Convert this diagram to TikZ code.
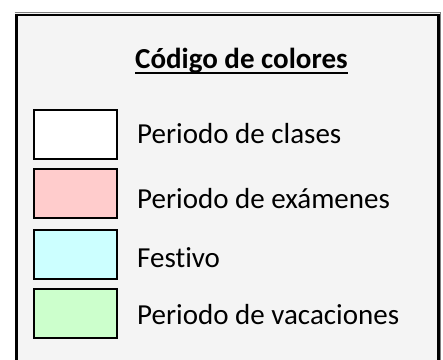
\documentclass[tikz,border=0pt]{standalone}
\usepackage{fontspec}
\setmainfont[Ligatures=NoCommon]{Carlito}
\definecolor{bg}{HTML}{F4F4F4}
\definecolor{pinkc}{HTML}{FFCCCC}
\definecolor{cyanc}{HTML}{CCFFFF}
\definecolor{greenc}{HTML}{CCFFCC}
\begin{document}
\begin{tikzpicture}[x=1pt,y=-1pt,
  swatch/.style={draw=black,line width=2pt,minimum width=83pt,minimum height=49pt,inner sep=0pt,anchor=north west},
  lbl/.style={anchor=base west,inner sep=0pt,font=\fontsize{29}{34}\selectfont}]
\useasboundingbox (0,0) rectangle (443,359);
\fill[white] (0,0) rectangle (443,359);
\fill[bg] (15,12) rectangle (441,370);
\draw[gray,line width=1pt] (14.5,12.5) -- (440.5,12.5) -- (440.5,370);
\draw[black,line width=2.5pt] (16.5,370) -- (16.5,15) -- (438.5,15) -- (438.5,370);
\node[lbl,font=\bfseries\fontsize{29}{34}\selectfont] (title) at (135,68) {Código de colores};
\draw[line width=2pt] ([yshift=-5pt]title.base west) -- ([yshift=-5pt]title.base east);
\node[swatch,fill=white]  (s1) at (33,109) {};
\node[swatch,fill=pinkc]  (s2) at (33,168) {};
\node[swatch,fill=cyanc]  (s3) at (33,229) {};
\node[swatch,fill=greenc] (s4) at (33,288) {};
\node[lbl] (t1) at (137,143) {Periodo de clases};
\node[lbl] (t2) at (137,208) {Periodo de exámenes};
\node[lbl] (t3) at (137,267) {Festivo};
\node[lbl] (t4) at (137,324) {Periodo de vacaciones};
\end{tikzpicture}
\end{document}
